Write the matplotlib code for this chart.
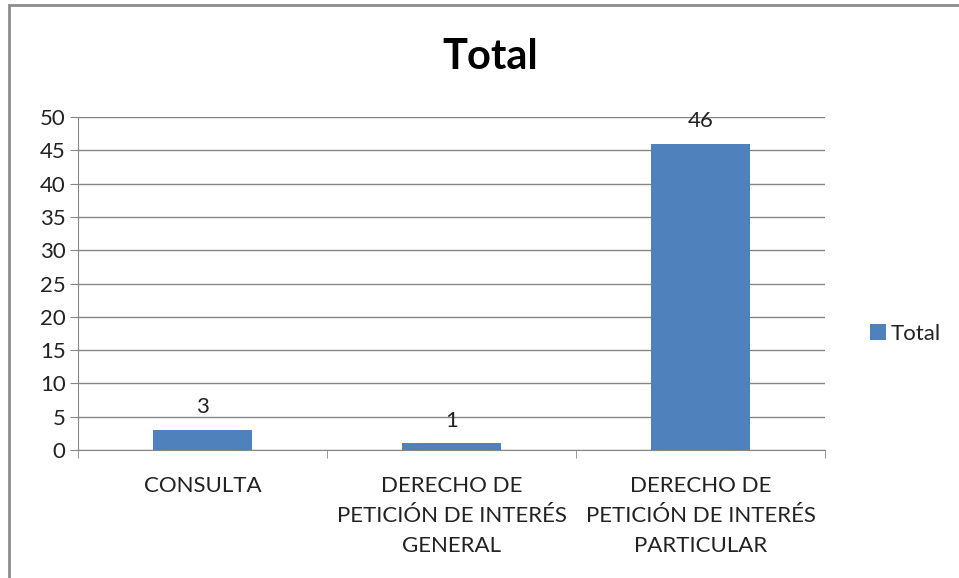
import matplotlib.pyplot as plt
import numpy as np
from matplotlib.patches import Rectangle

plt.rcParams['font.family'] = ['Lato', 'DejaVu Sans']

# datos
categorias = ['CONSULTA',
              'DERECHO DE\nPETICIÓN DE INTERÉS\nGENERAL',
              'DERECHO DE\nPETICIÓN DE INTERÉS\nPARTICULAR']
valores = [3, 1, 46]
serie = 'Total'

azul = '#4F81BD'
gris = '#868686'

fig = plt.figure(figsize=(9.59, 5.78), dpi=100)
ax = fig.add_axes([78 / 959, 1 - 450 / 578, (825 - 78) / 959, (450 - 117) / 578])

# marco del grafico
fig.patches.append(Rectangle((9 / 959, -0.1), 1.2, 1 - 5 / 578 + 0.1,
                             transform=fig.transFigure, fill=False,
                             edgecolor='#8c8c8c', linewidth=2))

index = np.arange(len(categorias))
barras = ax.bar(index, valores, 0.4, color=azul, label=serie, zorder=3)
for i, v in zip(index, valores):
    ax.text(i, v + 1.9, str(v), ha='center', va='bottom', fontsize=16, color='#222222')

ax.set_xlim(-0.5, len(categorias) - 0.5)
ax.set_ylim(0, 50)
ax.set_yticks(np.arange(0, 55, 5))
ax.yaxis.grid(True, color=gris, linewidth=1, zorder=0)

ax.set_xticks(index)
ax.set_xticklabels(categorias, fontsize=16, linespacing=1.62)
ax.tick_params(axis='x', length=0, pad=19, labelcolor='#222222')
ax.set_xticks(np.arange(-0.5, len(categorias), 1), minor=True)
ax.tick_params(axis='x', which='minor', length=6, color=gris, direction='out')
ax.tick_params(axis='y', length=6, color=gris, labelsize=16, pad=3, labelcolor='#222222')

for s in ['top', 'right']:
    ax.spines[s].set_visible(False)
for s in ['left', 'bottom']:
    ax.spines[s].set_color(gris)

fig.text(490 / 959, 1 - 57 / 578, 'Total', ha='center', va='center',
         fontsize=30, fontweight='bold')

fig.legend(handles=[barras], labels=[serie], loc='center left',
           bbox_to_anchor=(850 / 959, 1 - 334 / 578), frameon=False,
           fontsize=16, handlelength=0.7, handleheight=0.7, handletextpad=0.25,
           labelcolor='#222222')

plt.savefig('out.png', dpi=100)
